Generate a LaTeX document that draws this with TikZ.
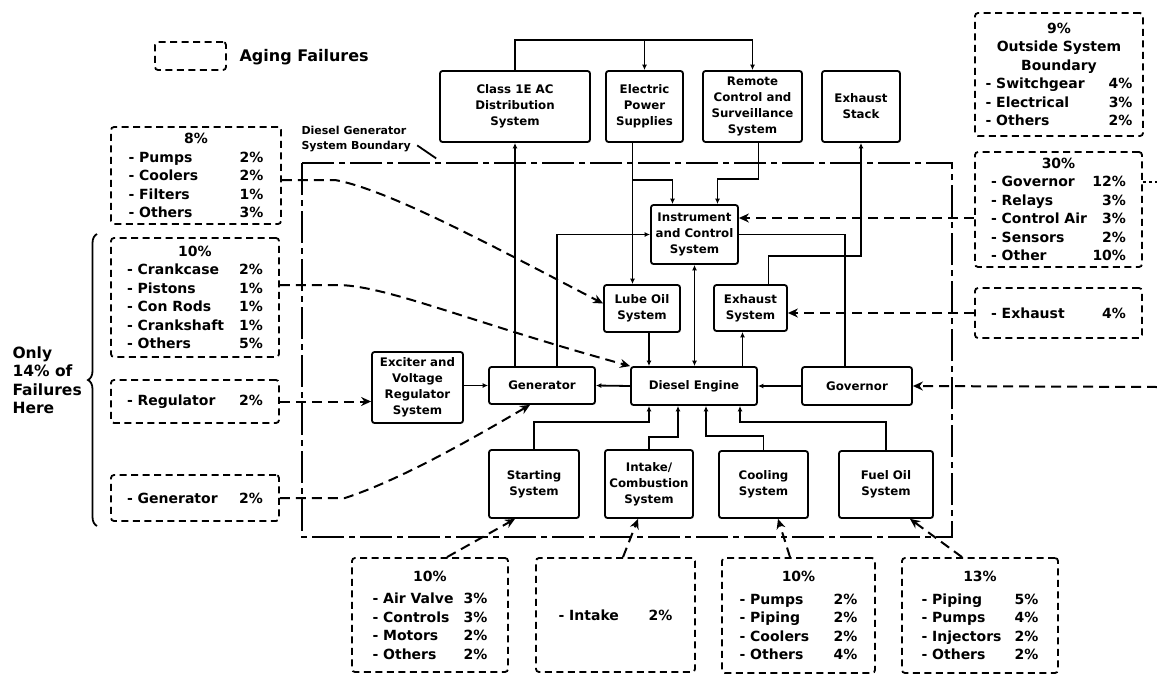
\documentclass[tikz,border=0pt]{standalone}
\usepackage{fontspec}
\setmainfont{DejaVu Sans}
\usetikzlibrary{arrows.meta,decorations.pathreplacing}

\newlength\rowwd
\newcommand\frow[2]{\hbox to \rowwd{- #1\hfil #2}}

\tikzset{
  sysbox/.style={draw, line width=1.8pt, rounded corners=2.5pt, align=center, inner sep=0pt,
    font=\fontsize{11.8}{16}\selectfont\bfseries},
  failbox/.style={draw, line width=1.8pt, dash pattern=on 7pt off 4.5pt, rounded corners=3pt,
    align=center, inner sep=0pt, font=\fontsize{14}{18.5}\selectfont\bfseries},
  itemw/.style={execute at begin node={\setlength\rowwd{#1}}},
  conn/.style={line width=1.8pt},
  arr/.style={conn, -{Latex[length=5.5pt,width=5pt]}},
  arrtwo/.style={conn, {Latex[length=5.5pt,width=5pt]}-{Latex[length=5.5pt,width=5pt]}},
  fail/.style={line width=2pt, dash pattern=on 10pt off 6pt, -{Stealth[length=10pt,width=9pt]}},
  bound/.style={line width=1.8pt, dash pattern=on 32pt off 5pt on 6pt off 5pt},
}

\begin{document}
\begin{tikzpicture}[x=1pt,y=-1pt]
\useasboundingbox (0,0) rectangle (1157,675);

% legend
\node[failbox, minimum width=71pt, minimum height=28pt] (legend) at (190.5,56) {};
\node[anchor=west, font=\fontsize{16}{18}\selectfont\bfseries] (legtext) at (236,57) {Aging Failures};

% system boundary
\draw[bound] (302,163) rectangle (952,537);
\node[anchor=north west, align=left, font=\fontsize{11}{15}\selectfont\bfseries] (blabel) at (298,123) {Diesel Generator\\System Boundary};
\draw[conn] ([xshift=3pt,yshift=-6pt]blabel.east) -- ++(19,13);

% system boxes
\node[sysbox, minimum width=150pt, minimum height=71pt] (cls) at (515,106.5) {Class 1E AC\\Distribution\\System};
\node[sysbox, minimum width=77pt, minimum height=71pt] (eps) at (644.5,106.5) {Electric\\Power\\Supplies};
\node[sysbox, minimum width=99pt, minimum height=71pt] (rcs) at (752.5,106.5) {Remote\\Control and\\Surveillance\\System};
\node[sysbox, minimum width=78pt, minimum height=71pt] (stack) at (861,106.5) {Exhaust\\Stack};
\node[sysbox, minimum width=87pt, minimum height=59pt] (ics) at (694.5,234.5) {Instrument\\and Control\\System};
\node[sysbox, minimum width=76pt, minimum height=47pt] (lube) at (642,308.5) {Lube Oil\\System};
\node[sysbox, minimum width=73pt, minimum height=46pt] (exs) at (750.5,308) {Exhaust\\System};
\node[sysbox, minimum width=91pt, minimum height=71pt] (exc) at (417.5,387.5) {Exciter and\\Voltage\\Regulator\\System};
\node[sysbox, minimum width=106pt, minimum height=37pt] (gen) at (542,385.5) {Generator};
\node[sysbox, minimum width=126pt, minimum height=38pt] (eng) at (694,386) {Diesel Engine};
\node[sysbox, minimum width=110pt, minimum height=38pt] (gov) at (857,386) {Governor};
\node[sysbox, minimum width=90pt, minimum height=68pt] (start) at (534,484) {Starting\\System};
\node[sysbox, minimum width=88pt, minimum height=68pt] (intake) at (649,484) {Intake/\\Combustion\\System};
\node[sysbox, minimum width=89pt, minimum height=67pt] (cool) at (763.5,484.5) {Cooling\\System};
\node[sysbox, minimum width=94pt, minimum height=67pt] (fuel) at (886,484.5) {Fuel Oil\\System};

% aging failure boxes
\node[failbox, itemw=135pt, minimum width=170pt, minimum height=97pt] (flube) at (196,175.5)
  {8\%\\ \frow{Pumps}{2\%}\\ \frow{Coolers}{2\%}\\ \frow{Filters}{1\%}\\ \frow{Others}{3\%}};
\node[failbox, itemw=136pt, minimum width=168pt, minimum height=119pt] (feng) at (195,297.5)
  {10\%\\ \frow{Crankcase}{2\%}\\ \frow{Pistons}{1\%}\\ \frow{Con Rods}{1\%}\\ \frow{Crankshaft}{1\%}\\ \frow{Others}{5\%}};
\node[failbox, itemw=136pt, minimum width=168pt, minimum height=43pt] (freg) at (195,401.5) {\frow{Regulator}{2\%}};
\node[failbox, itemw=136pt, minimum width=168pt, minimum height=46pt] (fgen) at (195,498) {\frow{Generator}{2\%}};
\node[failbox, itemw=147pt, minimum width=168pt, minimum height=123pt] (fout) at (1059,74.5)
  {9\%\\ Outside System\\ Boundary\\ \frow{Switchgear}{4\%}\\ \frow{Electrical}{3\%}\\ \frow{Others}{2\%}};
\node[failbox, itemw=135pt, minimum width=167pt, minimum height=115pt] (fics) at (1058.5,209.5)
  {30\%\\ \frow{Governor}{12\%}\\ \frow{Relays}{3\%}\\ \frow{Control Air}{3\%}\\ \frow{Sensors}{2\%}\\ \frow{Other}{10\%}};
\node[failbox, itemw=135pt, minimum width=167pt, minimum height=50pt] (fexh) at (1058.5,313) {\frow{Exhaust}{4\%}};
\node[failbox, itemw=115pt, minimum width=156pt, minimum height=114pt] (fstart) at (430,615)
  {10\%\\[4pt] \frow{Air Valve}{3\%}\\ \frow{Controls}{3\%}\\ \frow{Motors}{2\%}\\ \frow{Others}{2\%}};
\node[failbox, itemw=114pt, minimum width=159pt, minimum height=114pt] (fintake) at (615.5,615) {\frow{Intake}{2\%}};
\node[failbox, itemw=118pt, minimum width=153pt, minimum height=115pt] (fcool) at (798.5,615.5)
  {10\%\\[4pt] \frow{Pumps}{2\%}\\ \frow{Piping}{2\%}\\ \frow{Coolers}{2\%}\\ \frow{Others}{4\%}};
\node[failbox, itemw=117pt, minimum width=156pt, minimum height=115pt] (ffuel) at (980,615.5)
  {13\%\\[4pt] \frow{Piping}{5\%}\\ \frow{Pumps}{4\%}\\ \frow{Injectors}{2\%}\\ \frow{Others}{2\%}};

\draw[conn, decorate, decoration={brace, amplitude=9pt}] (97,526) -- (97,234);
\node[anchor=north west, align=left, font=\fontsize{15.5}{18.5}\selectfont\bfseries] (only) at (9,343) {Only\\14\% of\\Failures\\Here};

% functional connections
\coordinate (bus) at (0,40);
\draw[conn] (cls.north) -- (cls.north |- bus) -- (rcs.north |- bus);
\draw[arr] (eps.north |- bus) -- (eps.north);
\draw[arr] (rcs.north |- bus) -- (rcs.north);
\draw[arr] (gen.north -| cls.south) -- (cls.south);
\draw[arr] ([xshift=-12pt]eps.south) -- ([xshift=-12pt]eps.south |- lube.north);
\coordinate (tap) at ([xshift=-12pt,yshift=-37pt]eps.south);
\draw[arr] (tap) -| ([xshift=-22pt]ics.north);
\draw[arr] ([xshift=6pt]rcs.south) -- ++(0,36) -| ([xshift=23pt]ics.north);
\draw[arr] ([xshift=15pt]gen.north) |- (ics.west);
\draw[conn] (ics.east) -| ([xshift=-12pt]gov.north);
\draw[arr] ([xshift=18pt]exs.north) -- ++(0,-28) -| (stack.south);
\draw[arr] ([xshift=7pt]lube.south) -- ([xshift=7pt]lube.south |- eng.north);
\draw[arrtwo] (ics.south) -- (ics.south |- eng.north);
\draw[arr] ([xshift=-8pt]exs.south |- eng.north) -- ([xshift=-8pt]exs.south);
\draw[arr] (eng.west) -- (gen.east);
\draw[arr] (gov.west) -- (eng.east);
\draw[arr] (exc.east |- gen.west) -- (gen.west);
\foreach \b/\up/\dx in {start/27/-45pt, intake/12/-16pt, cool/14/12pt, fuel/28/46pt}
  \draw[arr] (\b.north) -- ++(0,-\up) -| ([xshift=\dx]eng.south);

% aging failure paths
\coordinate (govin) at (1157,387);
\coordinate (stub) at (1157,182);
\draw[fail] ([yshift=-4.5pt]flube.east) -- (335,180) .. controls (390,190) and (500,250) .. ([yshift=5pt]lube.west);
\draw[fail] ([yshift=12.5pt]feng.east) -- (340,285) .. controls (390,287) and (470,322) .. (eng.north west);
\draw[fail] (freg.east) -- (freg.east -| exc.west);
\draw[fail] (fgen.east) -- (345,498) .. controls (400,480) and (470,440) .. ([xshift=-12pt]gen.south);
\draw[fail] ([xshift=17pt]fstart.north) -- ([xshift=-19pt]start.south);
\draw[fail] ([xshift=7.5pt]fintake.north) -- ([xshift=-11pt]intake.south);
\draw[fail] ([xshift=-8.5pt]fcool.north) -- ([xshift=14.5pt]cool.south);
\draw[fail] ([xshift=-18pt]ffuel.north) -- ([xshift=24pt]fuel.south);
\draw[fail] ([yshift=-8.5pt]fics.west) -- ([yshift=-8.5pt]fics.west -| ics.east);
\draw[fail] (fexh.west) -- (fexh.west -| exs.east);
\draw[fail] (govin) -- (gov.east);
\draw[conn, dashed] ([yshift=27.5pt]fics.east) -- (stub);
\end{tikzpicture}
\end{document}
